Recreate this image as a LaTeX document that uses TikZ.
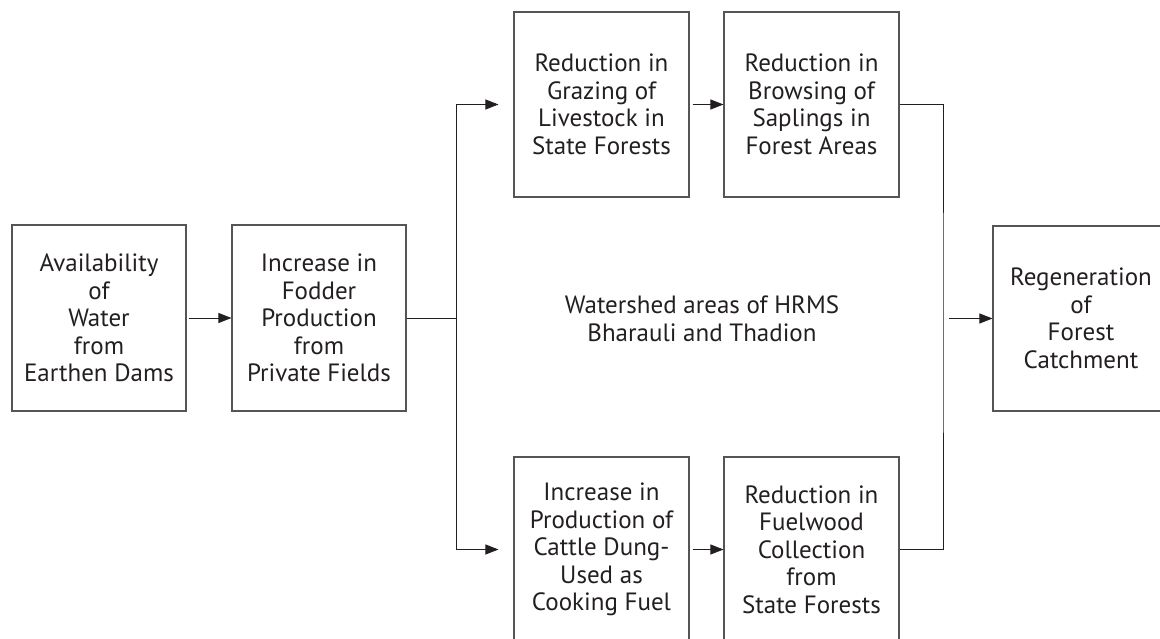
\documentclass[tikz,border=0pt]{standalone}
\usepackage{fontspec}
\setmainfont{PT Sans}
\usetikzlibrary{arrows.meta}
\definecolor{ink}{HTML}{231F20}
\definecolor{frame}{HTML}{555555}
\begin{document}
\begin{tikzpicture}[x=1pt,y=-1pt,
  box/.style={draw=frame, line width=1.1pt, minimum width=#1, minimum height=185pt, inner sep=0pt,
    align=center, text=ink, font=\fontsize{25}{27.5}\selectfont},
  box/.default=175pt,
  conn/.style={draw=ink, line width=1pt},
  arr/.style={conn, -{Triangle[length=13pt,width=10pt]}},
  lbl/.style={align=center, text=ink, font=\fontsize{25}{28}\selectfont}]
\useasboundingbox (0,0) rectangle (1160,639);
\clip (0,0) rectangle (1160,639);
\node[box=174pt, minimum height=186pt] (A) at (99,318) {Availability\\of\\Water\\from\\Earthen Dams};
\node[box=174pt, minimum height=186pt] (B) at (319,318) {Increase in\\Fodder\\Production\\from\\Private Fields};
\node[box] (C) at (601.5,104.5) {Reduction in\\Grazing of\\Livestock in\\State Forests};
\node[box] (D) at (811.5,104.5) {Reduction in\\Browsing of\\Saplings in\\Forest Areas};
\node[box] (E) at (601.5,549.5) {Increase in\\Production of\\Cattle Dung-\\Used as\\Cooking Fuel};
\node[box] (F) at (811.5,549.5) {Reduction in\\Fuelwood\\Collection\\from\\State Forests};
\node[box=176pt] (G) at (1081,318.5) {Regeneration\\of\\Forest\\Catchment};
\node[lbl] (W) at (702,319) {Watershed areas of HRMS\\Bharauli and Thadion};
\coordinate (J) at (456,318);
\coordinate (K) at (943,318.5);
\draw[arr, shorten <=2pt] (A) -- (B);
\draw[conn] (B.east) -- (J);
\draw[arr, shorten >=15pt] (J) |- (C.west);
\draw[arr, shorten >=15pt] (J) |- (E.west);
\draw[arr, shorten <=3pt] (C) -- (D);
\draw[arr, shorten <=3pt] (E) -- (F);
\draw[conn] (D.east) -| (K) |- (F.east);
\draw[arr, shorten <=6pt] (K) -- (G.west);
\end{tikzpicture}
\end{document}
